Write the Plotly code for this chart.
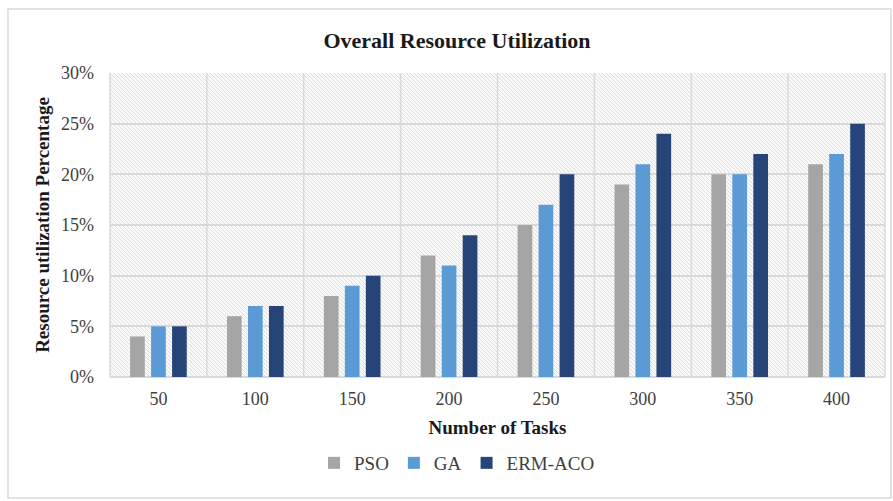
import base64
import plotly.graph_objects as go

# Task counts and resource utilization (%) per scheduling algorithm
tasks = ["50", "100", "150", "200", "250", "300", "350", "400"]
pso = [4, 6, 8, 12, 15, 19, 20, 21]
ga = [5, 7, 9, 11, 17, 21, 20, 22]
erm_aco = [5, 7, 10, 14, 20, 24, 22, 25]

series_names = ["PSO", "GA", "ERM-ACO"]
series_colors = ["#A5A5A5", "#5B9BD5", "#264478"]

W, H = 893, 501
M_L, M_R, M_T, M_B = 110, 8, 73, 124
plot_w = W - M_L - M_R
plot_h = H - M_T - M_B

# Diagonal hatch texture for the plot area background
hatch_svg = f"""<svg xmlns='http://www.w3.org/2000/svg' width='{plot_w}' height='{plot_h}' preserveAspectRatio='none'>
<defs><pattern id='h' width='4' height='4' patternUnits='userSpaceOnUse'>
<rect width='4' height='4' fill='#f9f9f9'/>
<path d='M-1,-1 L5,5 M-1,3 L1,5 M3,-1 L5,1' stroke='#dfdfdf' stroke-width='1'/>
</pattern></defs>
<rect width='{plot_w}' height='{plot_h}' fill='url(#h)'/>
</svg>"""
hatch_uri = "data:image/svg+xml;base64," + base64.b64encode(hatch_svg.encode()).decode()

fig = go.Figure()
for name, vals, color in zip(series_names, [pso, ga, erm_aco], series_colors):
    fig.add_trace(go.Bar(
        x=tasks, y=vals, name=name,
        marker=dict(color=color, line=dict(width=0)),
    ))

serif = "Liberation Serif, Times New Roman, serif"

fig.update_layout(
    width=W, height=H,
    margin=dict(l=M_L, r=M_R, t=M_T, b=M_B),
    paper_bgcolor="white",
    plot_bgcolor="rgba(0,0,0,0)",
    barmode="group",
    bargap=0.35,
    bargroupgap=0.3,
    font=dict(family=serif, color="#404040", size=18),
    title=dict(
        text="<b>Overall Resource Utilization</b>",
        x=457 / W, xref="container", xanchor="center",
        y=1 - 40 / H, yanchor="middle",
        font=dict(family=serif, size=22, color="#1a1a1a"),
    ),
    xaxis=dict(
        type="category",
        showgrid=False,
        showline=False,
        ticks="",
        ticklabelstandoff=9,
        tickfont=dict(size=18, color="#404040"),
        title=dict(text="<b>Number of Tasks</b>", font=dict(size=19, color="#1a1a1a"), standoff=12),
    ),
    yaxis=dict(
        range=[0, 30],
        tickvals=[0, 5, 10, 15, 20, 25, 30],
        ticktext=["0%", "5%", "10%", "15%", "20%", "25%", "30%"],
        showgrid=True, gridcolor="#d9d9d9", gridwidth=1.5,
        zeroline=True, zerolinecolor="#d9d9d9", zerolinewidth=1.5,
        showline=False, ticks="",
        ticklabelstandoff=15,
        tickfont=dict(size=18, color="#404040"),
        title=dict(text="<b>Resource utilization Percentage</b>",
                   font=dict(size=19, color="#1a1a1a"), standoff=6),
    ),
    legend=dict(
        orientation="h", x=(457 - M_L) / plot_w, xanchor="center",
        y=-(463 - (M_T + plot_h)) / plot_h, yanchor="middle",
        font=dict(size=19, color="#404040"),
        itemwidth=30, tracegroupgap=0,
    ),
    images=[dict(
        source=hatch_uri, xref="paper", yref="paper",
        x=0, y=1, sizex=1, sizey=1, xanchor="left", yanchor="top",
        sizing="stretch", layer="below",
    )],
)

# Vertical separators between task categories and plot-area frame
n = len(tasks)
shapes = []
for i in range(n + 1):
    shapes.append(dict(type="line", xref="paper", yref="paper",
                       x0=i / n, x1=i / n, y0=0, y1=1,
                       line=dict(color="#d9d9d9", width=1.5), layer="below"))
# Outer chart border
shapes.append(dict(type="rect", xref="paper", yref="paper",
                   x0=(8 - M_L) / plot_w, x1=(891 - M_L) / plot_w,
                   y0=-(498 - (M_T + plot_h)) / plot_h, y1=(M_T + plot_h - 9) / plot_h,
                   line=dict(color="#d9d9d9", width=1.5)))
fig.update_layout(shapes=shapes)

fig.write_html("out.html")
